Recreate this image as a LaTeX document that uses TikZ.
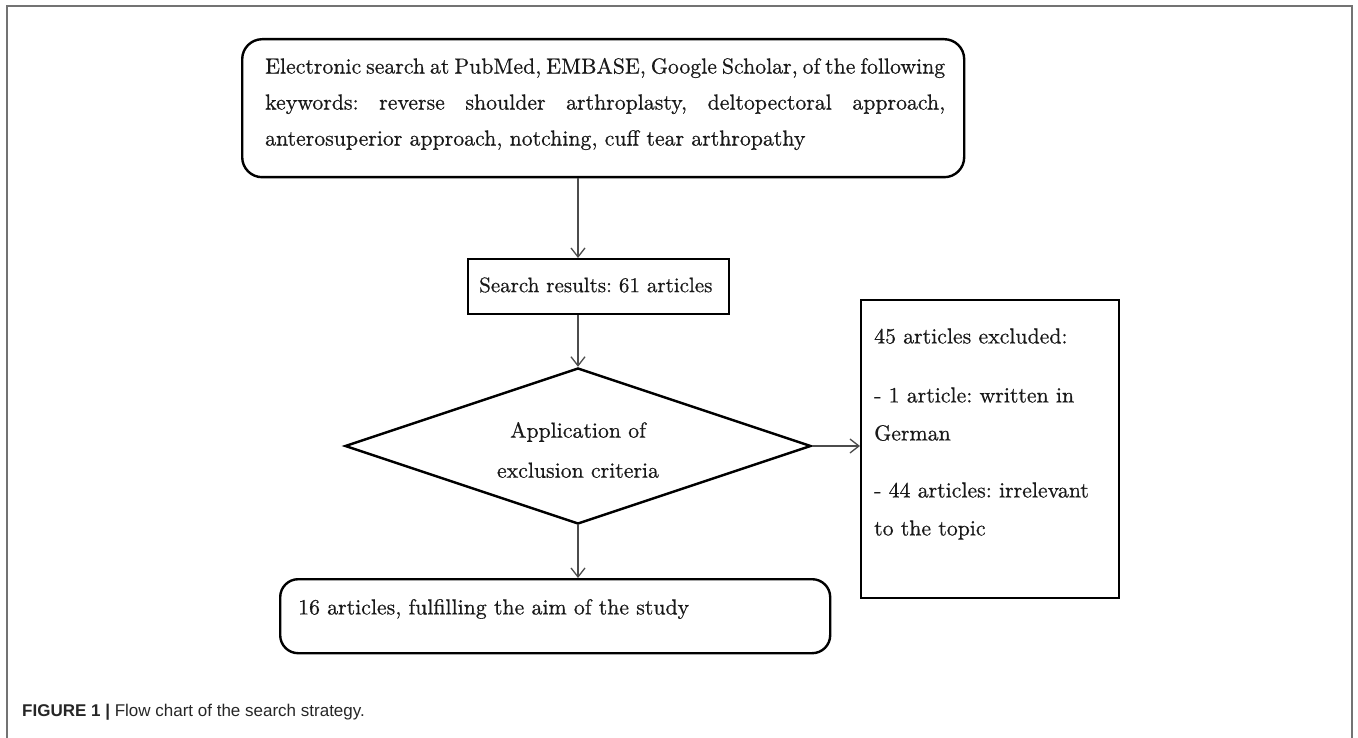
\documentclass[tikz,border=0pt]{standalone}
\usepackage{fontspec}
\newfontfamily\capfont{Liberation Sans}
\newfontfamily\boxfont{lmroman10-regular.otf}[FakeBold=0.6]
\usetikzlibrary{arrows.meta,shapes.geometric}
\frenchspacing
\begin{document}
\begin{tikzpicture}[x=1pt,y=-1pt,
  box/.style={draw=black, line width=2.4pt, inner sep=0pt},
  rbox/.style={box, rounded corners=20pt},
  lbl/.style={inner sep=0pt, text=black!90, font=\boxfont\fontsize{21.8}{36}\selectfont},
  arr/.style={draw=black!70, line width=1.3pt, -{Straight Barb[length=9pt,width=14pt,line width=1.3pt]}}
]
\useasboundingbox (0,0) rectangle (1358,738);
\draw[black!55, line width=2pt] (7,745) -- (7,6) -- (1352,6) -- (1352,745);

% boxes
\node[rbox, minimum width=722pt, minimum height=138pt, anchor=north west] (b1) at (241,38) {};
\node[box, minimum width=261pt, minimum height=55pt, anchor=north west] (b2) at (467,258) {};
\node[box, diamond, minimum width=466pt, minimum height=156pt] (d) at (578,446) {};
\node[box, minimum width=258pt, minimum height=298pt, anchor=north west] (b3) at (860,299) {};
\node[rbox, rounded corners=18pt, minimum width=550pt, minimum height=74pt, anchor=north west] (b4) at (279,578) {};

% texts
\node[lbl, anchor=west, align=left] (t1) at (265,104)
  {\makebox[680pt][s]{Electronic search at PubMed, EMBASE, Google Scholar, of the following}\\
   \makebox[680pt][s]{keywords: reverse shoulder arthroplasty, deltopectoral approach,}\\
   anterosuperior approach, notching, cuff tear arthropathy};
\node[lbl, anchor=west, font=\boxfont\fontsize{21}{26}\selectfont] (t2) at (479,285) {Search results: 61 articles};
\node[lbl, align=center, font=\boxfont\fontsize{21.8}{40}\selectfont] (td) at (578,450) {Application of\\exclusion criteria};
\node[lbl, anchor=west, align=left, font=\boxfont\fontsize{21.8}{38}\selectfont] (t3) at (874,434)
  {45 articles excluded:\\[21pt]
   - 1 article: written in\\
   German\\[19pt]
   - 44 articles: irrelevant\\
   to the topic};
\node[lbl, anchor=west] (t4) at (298,609) {16 articles, fulfilling the aim of the study};

% connectors
\draw[arr] (b1.south -| d.north) -- (b2.north -| d.north);
\draw[arr] (b2.south -| d.north) -- (d.north);
\draw[arr] (d.south) -- (b4.north -| d.south);
\draw[arr] (d.east) -- (b3.west |- d.east);

% caption
\node[anchor=west, inner sep=0pt, text=black!85, font=\capfont\fontsize{17}{20}\selectfont] (cap) at (22,712)
  {\textbf{FIGURE 1 |} Flow chart of the search strategy.};
\end{tikzpicture}
\end{document}
